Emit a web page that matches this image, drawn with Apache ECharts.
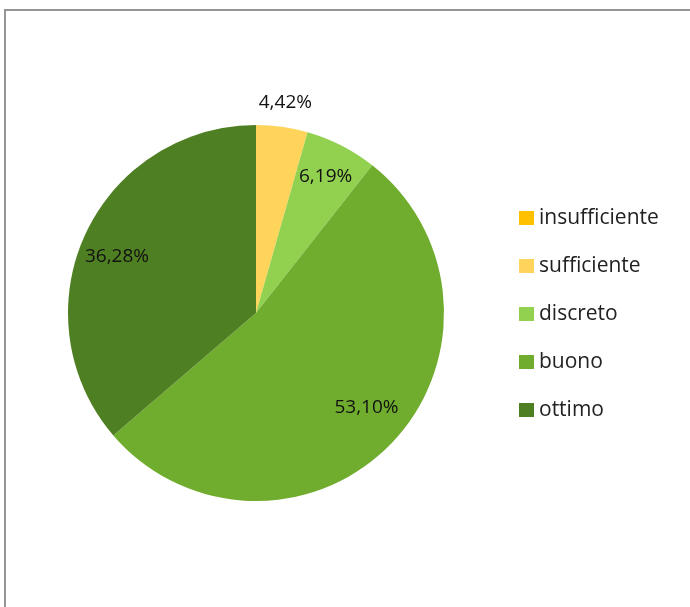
<!DOCTYPE html>
<html>
<head>
<meta charset="utf-8">
<script src="https://cdn.jsdelivr.net/npm/echarts@6/dist/echarts.min.js"></script>
<style>
  html, body { margin: 0; padding: 0; background: #ffffff; }
  #chart { width: 690px; height: 607px; }
</style>
</head>
<body>
<div id="chart"></div>
<script>
// Giudizi e relative percentuali
const categories = ['insufficiente', 'sufficiente', 'discreto', 'buono', 'ottimo'];
const percentages = [0, 4.42, 6.19, 53.10, 36.28];
const sliceColors = ['#FFC000', '#FFD45B', '#92D050', '#70AD2E', '#4F7F23'];

// Etichette disegnate dentro lo spicchio e quella fuori dal bordo
const innerLabelNames = ['discreto', 'buono', 'ottimo'];
const outerLabelNames = ['sufficiente'];

// Piccoli spostamenti verticali delle etichette interne (px)
const labelNudge = { buono: -11, ottimo: 8 };

const pieData = categories.map((name, i) => ({
  name: name,
  value: percentages[i],
  itemStyle: { color: sliceColors[i] }
}));

// Stessi valori, spicchi invisibili: servono solo a collocare le etichette
const labelData = categories.map((name, i) => ({
  name: name,
  value: percentages[i],
  itemStyle: { color: 'rgba(0,0,0,0)', borderWidth: 0 }
}));

const fmtPct = v => v.toFixed(2).replace('.', ',') + '%';
const labelFor = names => p => names.includes(p.name) ? fmtPct(p.value) : '';

const center = [256, 313];
const labelFont = { fontFamily: 'Open Sans', fontSize: 19, color: '#111111' };

const chart = echarts.init(document.getElementById('chart'), null, { renderer: 'canvas' });

chart.setOption({
  animation: false,
  backgroundColor: '#ffffff',
  graphic: [{
    type: 'rect',
    shape: { x: 5, y: 10, width: 800, height: 700 },
    style: { fill: 'none', stroke: '#959595', lineWidth: 2 },
    silent: true
  }],
  legend: {
    orient: 'vertical',
    left: 519,
    top: 206,
    padding: 0,
    icon: 'rect',
    itemWidth: 15,
    itemHeight: 14,
    itemGap: 24,
    selectedMode: false,
    data: categories.map((name, i) => ({ name: name, itemStyle: { color: sliceColors[i] } })),
    textStyle: { fontFamily: 'Open Sans', fontSize: 21, lineHeight: 24, color: '#222222' }
  },
  series: [
    {
      type: 'pie',
      name: 'giudizi',
      center: center,
      radius: [0, 188],
      startAngle: 90,
      clockwise: true,
      data: pieData,
      label: { show: false },
      labelLine: { show: false },
      emphasis: { disabled: true },
      silent: true
    },
    {
      type: 'pie',
      name: 'etichette interne',
      center: center,
      radius: [112, 188],
      startAngle: 90,
      clockwise: true,
      data: labelData,
      legendHoverLink: false,
      label: Object.assign({ show: true, position: 'inside', formatter: labelFor(innerLabelNames) }, labelFont),
      labelLine: { show: false },
      labelLayout: p => ({ dy: labelNudge[categories[p.dataIndex]] || 0 }),
      emphasis: { disabled: true },
      silent: true
    },
    {
      type: 'pie',
      name: 'etichette esterne',
      center: center,
      radius: [188, 230],
      startAngle: 90,
      clockwise: true,
      data: labelData,
      legendHoverLink: false,
      label: Object.assign({ show: true, position: 'inside', formatter: labelFor(outerLabelNames) }, labelFont),
      labelLine: { show: false },
      emphasis: { disabled: true },
      silent: true
    }
  ]
});
</script>
</body>
</html>
